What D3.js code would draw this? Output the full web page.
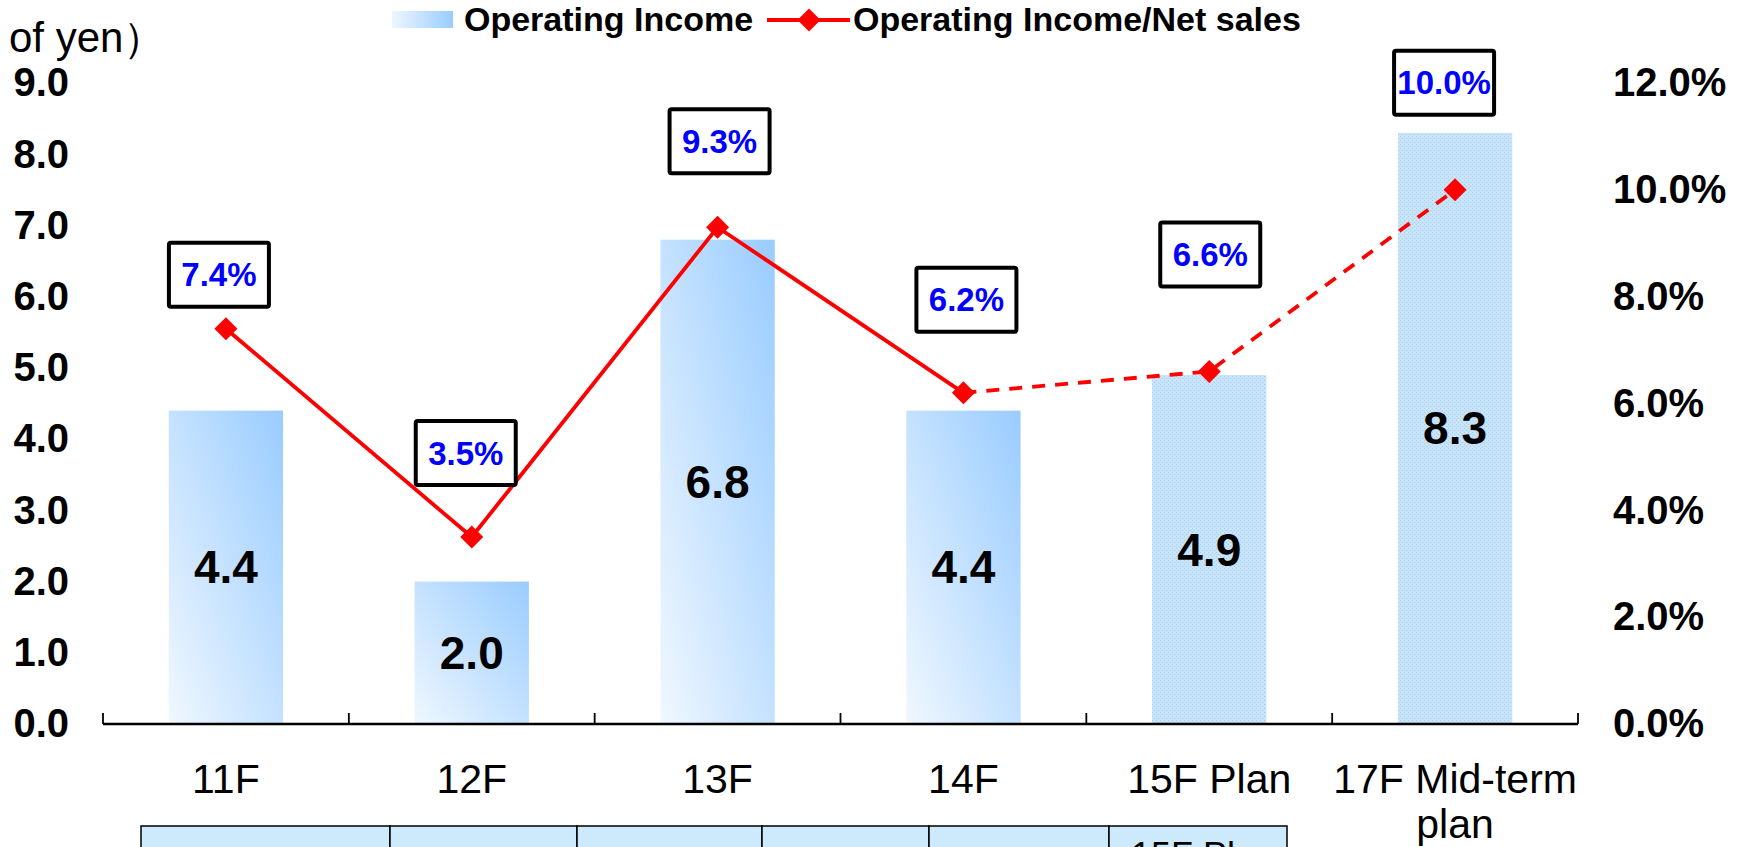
<!DOCTYPE html>
<html>
<head>
<meta charset="utf-8">
<script src="https://cdn.jsdelivr.net/npm/d3@7"></script>
<style>
  html, body { margin: 0; padding: 0; background: #fff; overflow: hidden; }
  svg { display: block; font-family: "Liberation Sans", Arial, sans-serif; }
</style>
</head>
<body>
<svg id="chart" width="1742" height="847"></svg>
<script>
// ---------- data ----------
const categories = ["11F", "12F", "13F", "14F", "15F Plan", "17F Mid-term plan"];
const categoryLines = [["11F"], ["12F"], ["13F"], ["14F"], ["15F Plan"], ["17F Mid-term", "plan"]];
const operatingIncome = [4.4, 2.0, 6.8, 4.4, 4.9, 8.3];
const incomeRatio = [7.4, 3.5, 9.3, 6.2, 6.6, 10.0];
const isPlan = [false, false, false, false, true, true];
const leftTicks = [0, 1, 2, 3, 4, 5, 6, 7, 8, 9];
const rightTicks = [0, 2, 4, 6, 8, 10, 12];
const legendLabels = ["Operating Income", "Operating Income/Net sales"];
const unitLabel = "of yen）";
const tableCells = ["", "", "", "", "", "15F Plan"];

// ---------- layout ----------
const X0 = 103, X1 = 1578, Y0 = 724, YT = 83;
const labelDx = [-7, -6, 2, 3, 1, -11];
const labelDy = [54, 84, 86, 93, 117, 107];
const tableCols = [141, 390, 577, 762, 929, 1109, 1287];

const svg = d3.select("#chart");
const defs = svg.append("defs");

const grad = defs.append("linearGradient").attr("id", "barGrad")
  .attr("x1", 0).attr("y1", 1).attr("x2", 1).attr("y2", 0);
grad.append("stop").attr("offset", "0%").attr("stop-color", "#f0f7ff");
grad.append("stop").attr("offset", "100%").attr("stop-color", "#99ccff");

const lgrad = defs.append("linearGradient").attr("id", "legGrad")
  .attr("x1", 0).attr("y1", 0.5).attr("x2", 1).attr("y2", 0.5);
lgrad.append("stop").attr("offset", "0%").attr("stop-color", "#eef6ff");
lgrad.append("stop").attr("offset", "100%").attr("stop-color", "#99ccff");

const pat = defs.append("pattern").attr("id", "planPat")
  .attr("patternUnits", "userSpaceOnUse").attr("width", 4).attr("height", 4);
pat.append("rect").attr("width", 4).attr("height", 4).attr("fill", "#c6e3f9");
pat.append("rect").attr("x", 0).attr("y", 0).attr("width", 1).attr("height", 1).attr("fill", "#a8cfee");
pat.append("rect").attr("x", 2).attr("y", 2).attr("width", 1).attr("height", 1).attr("fill", "#a8cfee");
pat.append("rect").attr("x", 2).attr("y", 0).attr("width", 1).attr("height", 1).attr("fill", "#d8eefc");

const x = d3.scaleBand().domain(categories).range([X0, X1]).padding(0);
const yL = d3.scaleLinear().domain([0, 9]).range([Y0, YT]);
const yR = d3.scaleLinear().domain([0, 12]).range([Y0, YT]);
const bw = x.bandwidth() * 0.465;
const cx = (c) => x(c) + x.bandwidth() / 2;

// bars
svg.append("g").selectAll("rect").data(categories).join("rect")
  .attr("x", (c) => cx(c) - bw / 2)
  .attr("y", (c, i) => yL(operatingIncome[i]))
  .attr("width", bw)
  .attr("height", (c, i) => Y0 - yL(operatingIncome[i]))
  .attr("fill", (c, i) => isPlan[i] ? "url(#planPat)" : "url(#barGrad)");

// bar value labels
svg.append("g").selectAll("text").data(categories).join("text")
  .attr("x", (c) => cx(c))
  .attr("y", (c, i) => (yL(operatingIncome[i]) + Y0) / 2)
  .attr("text-anchor", "middle").attr("dominant-baseline", "central")
  .attr("font-size", 46).attr("font-weight", "bold").attr("fill", "#000")
  .text((c, i) => operatingIncome[i].toFixed(1));

// x axis line and boundary ticks
svg.append("line").attr("x1", X0).attr("x2", X1).attr("y1", Y0).attr("y2", Y0)
  .attr("stroke", "#000").attr("stroke-width", 2.5);
const bounds = categories.map((c) => x(c)).concat([X1]);
svg.append("g").selectAll("line").data(bounds).join("line")
  .attr("x1", (d) => d).attr("x2", (d) => d).attr("y1", Y0).attr("y2", Y0 - 11)
  .attr("stroke", "#000").attr("stroke-width", 1.8);

// x labels
const xl = svg.append("g").selectAll("text").data(categories).join("text")
  .attr("x", (c) => cx(c)).attr("y", 793)
  .attr("text-anchor", "middle").attr("font-size", 41).attr("fill", "#000");
xl.each(function (c, i) {
  const t = d3.select(this);
  categoryLines[i].forEach((ln, k) => {
    t.append("tspan").attr("x", cx(c)).attr("dy", k === 0 ? 0 : 45).text(ln);
  });
});

// left axis
const gl = svg.append("g").attr("transform", `translate(${X0},0)`)
  .call(d3.axisLeft(yL).tickValues(leftTicks).tickFormat(d3.format(".1f")).tickSize(0).tickPadding(34));
gl.select(".domain").remove();
gl.selectAll("text").attr("font-size", 40).attr("font-weight", "bold").attr("fill", "#000")
  .attr("font-family", "Liberation Sans, Arial, sans-serif");

// right axis
const gr = svg.append("g").attr("transform", `translate(${X1},0)`)
  .call(d3.axisRight(yR).tickValues(rightTicks).tickFormat((d) => d.toFixed(1) + "%").tickSize(0).tickPadding(35));
gr.select(".domain").remove();
gr.selectAll("text").attr("font-size", 40).attr("font-weight", "bold").attr("fill", "#000")
  .attr("font-family", "Liberation Sans, Arial, sans-serif");

// ratio line
const pts = categories.map((c, i) => [cx(c), yR(incomeRatio[i])]);
const lineGen = d3.line();
svg.append("path").attr("d", lineGen(pts.slice(0, 4)))
  .attr("fill", "none").attr("stroke", "#ff0000").attr("stroke-width", 3.8);
svg.append("path").attr("d", lineGen(pts.slice(3)))
  .attr("fill", "none").attr("stroke", "#ff0000").attr("stroke-width", 3.8)
  .attr("stroke-dasharray", "13 10");
const diamondPath = d3.symbol().type(d3.symbolSquare).size(265);
svg.append("g").selectAll("path").data(pts).join("path")
  .attr("d", diamondPath)
  .attr("transform", (p) => `translate(${p[0]},${p[1]}) rotate(45)`)
  .attr("fill", "#ff0000");

// ratio label boxes
const boxW = 100, boxH = 64;
const lb = svg.append("g").selectAll("g").data(categories).join("g")
  .attr("transform", (c, i) => `translate(${cx(c) + labelDx[i]},${yR(incomeRatio[i]) - labelDy[i]})`);
lb.append("rect").attr("x", -boxW / 2).attr("y", -boxH / 2).attr("width", boxW).attr("height", boxH)
  .attr("rx", 2).attr("fill", "#fff").attr("stroke", "#000").attr("stroke-width", 4);
lb.append("text").attr("text-anchor", "middle").attr("dominant-baseline", "central")
  .attr("font-size", 33).attr("font-weight", "bold").attr("fill", "#0000ff")
  .text((c, i) => incomeRatio[i].toFixed(1) + "%");

// unit label
svg.append("text").attr("x", 9).attr("y", 52).attr("font-size", 42).attr("fill", "#000")
  .text(unitLabel);

// legend
svg.append("rect").attr("x", 392).attr("y", 11).attr("width", 61).attr("height", 17).attr("fill", "url(#legGrad)");
svg.append("text").attr("x", 464).attr("y", 31).attr("font-size", 34).attr("font-weight", "bold").attr("fill", "#000")
  .text(legendLabels[0]);
svg.append("line").attr("x1", 767).attr("x2", 850).attr("y1", 20).attr("y2", 20)
  .attr("stroke", "#ff0000").attr("stroke-width", 3.8);
svg.append("path").attr("transform", "translate(809,20) rotate(45)")
  .attr("d", diamondPath).attr("fill", "#ff0000");
svg.append("text").attr("x", 853).attr("y", 31).attr("font-size", 34).attr("font-weight", "bold").attr("fill", "#000")
  .text(legendLabels[1]);

// table at bottom
const tg = svg.append("g");
tableCells.forEach((t, i) => {
  tg.append("rect").attr("x", tableCols[i]).attr("y", 826)
    .attr("width", tableCols[i + 1] - tableCols[i]).attr("height", 60)
    .attr("fill", "#cdeafc").attr("stroke", "#000").attr("stroke-width", 1.5);
  if (t) tg.append("text").attr("x", tableCols[i] + 22).attr("y", 868)
    .attr("font-size", 36).attr("fill", "#000").text(t);
});
</script>
</body>
</html>
